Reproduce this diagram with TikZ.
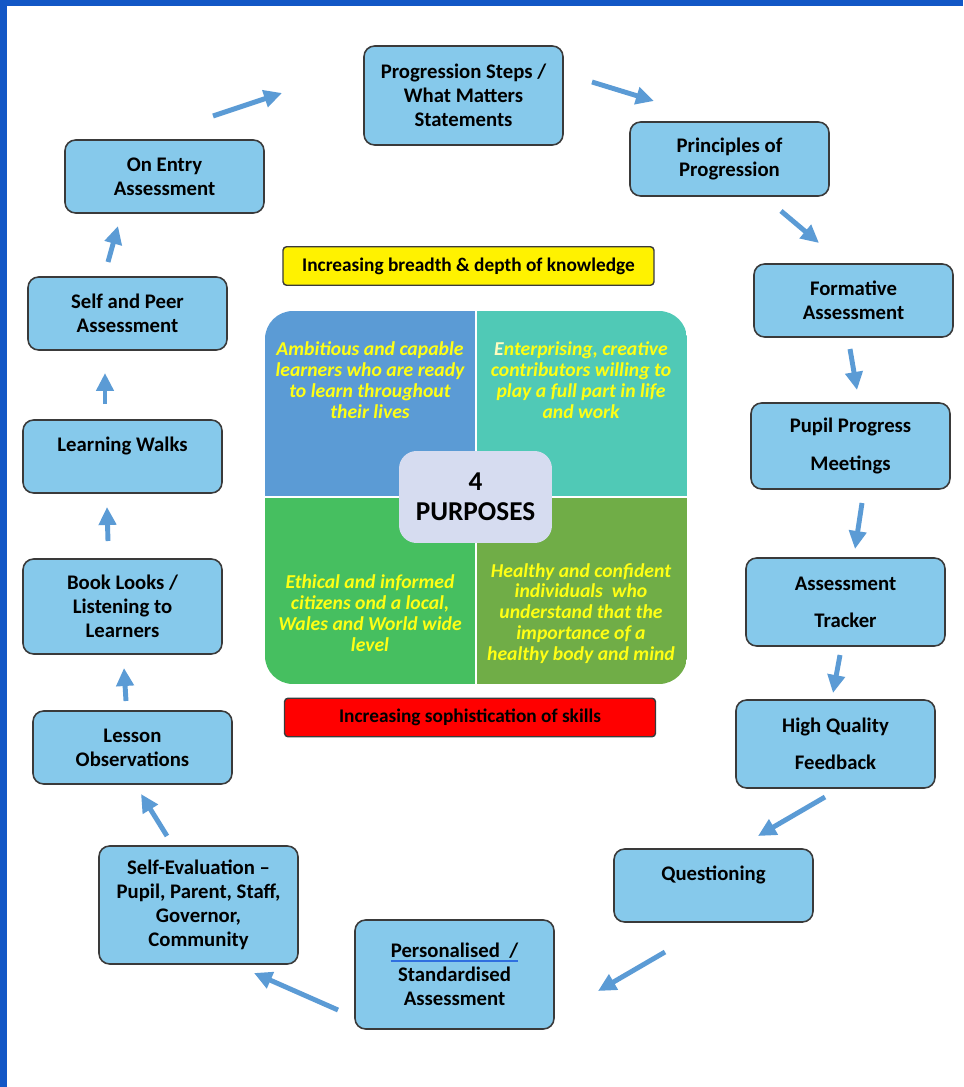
\documentclass[tikz,border=0pt]{standalone}
\usepackage{fontspec}
\setmainfont{Carlito}
\usetikzlibrary{positioning, arrows.meta}
\usepackage{xcolor}

\definecolor{frameblue}{HTML}{1257C6}
\definecolor{boxfill}{HTML}{86C9EB}
\definecolor{boxline}{HTML}{3A3A3A}
\definecolor{arrowblue}{HTML}{5B9BD5}
\definecolor{linkblue}{HTML}{2F6FE0}
\definecolor{quadblue}{HTML}{5B9BD5}
\definecolor{quadteal}{HTML}{50C9B6}
\definecolor{quadgreen}{HTML}{46BF60}
\definecolor{quadolive}{HTML}{70AD47}
\definecolor{quadtext}{HTML}{FFFF14}
\definecolor{centrefill}{HTML}{D6DCF0}

\newcommand{\blueul}[1]{{\setbox0\hbox{#1}\rlap{\color{linkblue}\rule[-2.6pt]{\wd0}{1.1pt}}\box0}}

\begin{document}
\begin{tikzpicture}[x=0.02cm, y=-0.02cm,
    stepbox/.style={rectangle, draw=boxline, line width=0.9pt, rounded corners=6pt, fill=boxfill, minimum width=3.98cm, align=center, font=\bfseries\fontsize{11.8}{13.6}\selectfont},
    banner/.style={rectangle, draw=boxline, line width=0.8pt, rounded corners=2pt, minimum width=7.42cm, minimum height=0.77cm, align=center, font=\bfseries\fontsize{11}{13}\selectfont},
    purpose/.style={text=quadtext, align=center, font=\bfseries\itshape\fontsize{11.2}{11.9}\selectfont},
    flow/.style={-{Triangle[length=0.36cm, width=0.34cm]}, line width=2.8pt, arrowblue}
  ]
  % page and frame
  \fill[white] (0,0) rectangle (963,1087);
  \fill[frameblue] (0,0) rectangle (7,1087);
  \fill[frameblue] (0,0) rectangle (963,6);

  % the cycle of boxes
  \node[stepbox, minimum height=1.98cm] (prog) at (463.5,95.5) {Progression Steps /\\What Matters\\Statements};
  \node[stepbox, minimum height=1.48cm] (princ) at (729.5,159) {Principles of\\Progression};
  \node[stepbox, minimum height=1.46cm] (formative) at (853.5,300.5) {Formative\\Assessment};
  \node[stepbox, minimum height=1.72cm] (pupil) at (850.5,446) {Pupil Progress\\[7.5pt]Meetings};
  \node[stepbox, minimum height=1.76cm] (tracker) at (845.5,602) {Assessment\\[7.5pt]Tracker};
  \node[stepbox, minimum height=1.76cm] (feedback) at (835.5,744) {High Quality\\[7.5pt]Feedback};
  \node[stepbox, minimum height=1.46cm] (quest) at (713.5,885.5) {Questioning\\\mbox{}};
  \node[stepbox, minimum height=2.18cm] (standard) at (454.5,974.5) {\blueul{Personalised\ \ /}\\Standardised\\Assessment};
  \node[stepbox, minimum height=2.36cm] (selfeval) at (198.5,905) {Self-Evaluation –\\Pupil, Parent, Staff,\\Governor,\\Community};
  \node[stepbox, minimum height=1.46cm] (lesson) at (132.5,747.5) {Lesson\\Observations};
  \node[stepbox, minimum height=1.90cm] (book) at (122.5,606.5) {Book Looks /\\Listening to\\Learners};
  \node[stepbox, minimum height=1.46cm] (walks) at (122.5,456.5) {Learning Walks\\\mbox{}};
  \node[stepbox, minimum height=1.46cm] (peer) at (127.5,313.5) {Self and Peer\\Assessment};
  \node[stepbox, minimum height=1.46cm] (entry) at (164.5,176.5) {On Entry\\Assessment};

  % banners
  \node[banner, fill=yellow] (breadth) at (468.5,266) {Increasing breadth \& depth of knowledge};
  \node[banner, fill=red] (skills) at (470,717.5) {Increasing sophistication of skills};

  % four purposes square
  \begin{scope}
    \clip[rounded corners=0.56cm] (265,311) rectangle (687,684);
    \fill[quadblue] (265,311) rectangle (475,496);
    \fill[quadteal] (477,311) rectangle (687,496);
    \fill[quadgreen] (265,498) rectangle (475,684);
    \fill[quadolive] (477,498) rectangle (687,684);
  \end{scope}
  \node[purpose] (ambitious) at (370,380) {Ambitious and capable\\learners who are ready\\to learn throughout\\their lives};
  \node[purpose] (enterprising) at (581,380) {{\color{yellow!25}E}nterprising, creative\\contributors willing to\\play a full part in life\\and work};
  \node[purpose] (ethical) at (370,613) {Ethical and informed\\citizens ond a local,\\Wales and World wide\\level};
  \node[purpose] (healthy) at (581,613.5) {Healthy and confident\\individuals\ \ who\\understand that the\\importance of a\\healthy body and mind};
  \node[rectangle, rounded corners=10pt, fill=centrefill, minimum width=3.06cm, minimum height=1.84cm, align=center, font=\bfseries\fontsize{15.5}{17}\selectfont] (purposes) at (475.5,497) {4\\PURPOSES};

  % arrow ends
  \coordinate (entry-out) at (213,116);   \coordinate (prog-in) at (282,93);
  \coordinate (prog-out) at (592,82);     \coordinate (princ-in) at (654,101);
  \coordinate (princ-out) at (781,211);   \coordinate (form-in) at (819,243);
  \coordinate (form-out) at (850,349);    \coordinate (pupil-in) at (857,390);
  \coordinate (pupil-out) at (862,503);   \coordinate (track-in) at (855,549);
  \coordinate (track-out) at (840,655);   \coordinate (feed-in) at (833,693);
  \coordinate (feed-out) at (825,797);    \coordinate (quest-in) at (758,836);
  \coordinate (quest-out) at (665,952);   \coordinate (stand-in) at (598,991);
  \coordinate (stand-out) at (338,1010);  \coordinate (eval-in) at (254,973);
  \coordinate (eval-out) at (167,836);    \coordinate (lesson-in) at (141,794);
  \coordinate (lesson-out) at (126,701);  \coordinate (book-in) at (124,668);
  \coordinate (book-out) at (108,541);    \coordinate (walks-in) at (107,507);
  \coordinate (walks-out) at (105,404);   \coordinate (peer-in) at (105,373);
  \coordinate (peer-out) at (108,262);    \coordinate (entry-in) at (118,226);

  % arrows
  \draw[flow] (entry-out) -- (prog-in);
  \draw[flow] (prog-out) -- (princ-in);
  \draw[flow] (princ-out) -- (form-in);
  \draw[flow] (form-out) -- (pupil-in);
  \draw[flow] (pupil-out) -- (track-in);
  \draw[flow] (track-out) -- (feed-in);
  \draw[flow] (feed-out) -- (quest-in);
  \draw[flow] (quest-out) -- (stand-in);
  \draw[flow] (stand-out) -- (eval-in);
  \draw[flow] (eval-out) -- (lesson-in);
  \draw[flow] (lesson-out) -- (book-in);
  \draw[flow] (book-out) -- (walks-in);
  \draw[flow] (walks-out) -- (peer-in);
  \draw[flow] (peer-out) -- (entry-in);

  \useasboundingbox (0,0) rectangle (963,1087);
\end{tikzpicture}
\end{document}
